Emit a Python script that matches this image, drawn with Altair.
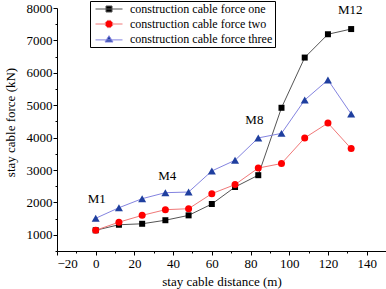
import altair as alt
import pandas as pd

# ---- data ----
distance = [0, 12, 24, 36, 48, 60, 72, 84, 96, 108, 120, 132]
force_one = [1140, 1310, 1340, 1450, 1600, 1950, 2475, 2840, 4920, 6470, 7190, 7350]
force_two = [1140, 1390, 1600, 1775, 1805, 2270, 2550, 3060, 3200, 3990, 4450, 3660]
force_three = [1510, 1835, 2115, 2300, 2320, 2970, 3300, 3990, 4130, 5160, 5780, 4730]
series_names = [
    "construction cable force one",
    "construction cable force two",
    "construction cable force three",
]
note_labels = ["M1", "M4", "M8", "M12"]
note_x = [0.5, 37, 82, 131.5]
note_y = [2120, 2810, 4540, 7940]

# ---- styles ----
FONT = "Liberation Serif"
marker_colors = ["#000000", "#ff0000", "#1f3f9f"]
line_colors = ["#555555", "#f07878", "#8484e0"]
marker_shapes = ["square", "circle", "triangle-up"]
marker_sizes = [36, 49, 64]
legend_paths = [
    "M-4.5,0L4.5,0M-1,-1L1,-1L1,1L-1,1Z",
    "M-4.5,0L-1.2,0M1.2,0L4.5,0M-1.2,-0.5L-0.5,-1.2L0.5,-1.2L1.2,-0.5L1.2,0.5L0.5,1.2L-0.5,1.2L-1.2,0.5Z",
    "M-4.5,0.3L4.5,0.3M0,-1.1L1.33,1L-1.33,1Z",
]

rows = []
for name, vals in zip(series_names, [force_one, force_two, force_three]):
    for d, v in zip(distance, vals):
        rows.append({"series": name, "distance": d, "force": v})
df = pd.DataFrame(rows)
notes = pd.DataFrame({"label": note_labels, "x": note_x, "y": note_y})

fill_scale = alt.Scale(domain=series_names, range=marker_colors)
stroke_scale = alt.Scale(domain=series_names, range=line_colors)

x_enc = alt.X(
    "distance:Q",
    scale=alt.Scale(domain=[-20, 150], nice=False, zero=False),
    axis=alt.Axis(
        title="stay cable distance (m)",
        values=list(range(-20, 151, 10)),
        tickCount=100,
        format="d",
        labelExpr="datum.value % 20 === 0 ? datum.label : ''",
        tickSize={"condition": {"test": "datum.value % 20 === 0", "value": 4}, "value": 2},
        labelPadding=2,
        labelOverlap=False,
        titleY=24,
    ),
)
y_enc = alt.Y(
    "force:Q",
    scale=alt.Scale(domain=[500, 8000], nice=False, zero=False),
    axis=alt.Axis(
        title="stay cable force (kN)",
        values=list(range(500, 8001, 500)),
        tickCount=100,
        format="d",
        labelExpr="datum.value % 1000 === 0 ? datum.label : ''",
        tickSize={"condition": {"test": "datum.value % 1000 === 0", "value": 4}, "value": 2},
        labelPadding=1,
        labelOverlap=False,
        titleX=-40,
        titleY=114,
    ),
)

legend = alt.Legend(
    orient="none",
    legendX=33,
    legendY=-7,
    title=None,
    labelFont=FONT,
    labelFontSize=12,
    labelColor="black",
    labelLimit=400,
    symbolSize=36,
    symbolOffset=11,
    symbolStrokeWidth=1,
    symbolOpacity=1,
    labelOffset=15,
    rowPadding=3,
    padding=2,
    strokeColor="black",
    fillColor="white",
    cornerRadius=0,
)

# invisible layer that only carries the legend (line + marker symbols)
legend_layer = (
    alt.Chart(df)
    .mark_point(filled=True, opacity=0, strokeWidth=1)
    .encode(
        x=x_enc,
        y=y_enc,
        fill=alt.Fill("series:N", scale=fill_scale, legend=legend),
        stroke=alt.Stroke("series:N", scale=stroke_scale, legend=legend),
        shape=alt.Shape("series:N", scale=alt.Scale(domain=series_names, range=legend_paths), legend=legend),
    )
)

lines = alt.Chart(df).mark_line(strokeWidth=1).encode(
    x="distance:Q",
    y="force:Q",
    stroke=alt.Stroke("series:N", scale=stroke_scale),
    detail="series:N",
)

point_layers = []
for name, shp, sz in zip(series_names, marker_shapes, marker_sizes):
    point_layers.append(
        alt.Chart(df)
        .transform_filter(alt.datum.series == name)
        .mark_point(filled=True, opacity=1, strokeWidth=0, shape=shp, size=sz)
        .encode(
            x="distance:Q",
            y="force:Q",
            fill=alt.Fill("series:N", scale=fill_scale),
        )
    )

texts = alt.Chart(notes).mark_text(font=FONT, fontSize=13, color="black").encode(
    x="x:Q", y="y:Q", text="label:N"
)

chart = (
    alt.layer(legend_layer, lines, *point_layers, texts)
    .properties(
        width=329,
        height=243,
        autosize=alt.AutoSizeParams(type="none"),
        padding={"left": 57, "top": 8, "right": 0, "bottom": 38},
        background="white",
    )
    .configure_view(stroke=None)
    .configure_axis(
        grid=False,
        domainColor="black",
        tickColor="black",
        labelFont=FONT,
        labelFontSize=13,
        labelColor="black",
        titleFont=FONT,
        titleFontSize=13,
        titleFontWeight="normal",
        titleColor="black",
    )
)

chart.save("out.html", embed_options={"renderer": "svg", "actions": False})
